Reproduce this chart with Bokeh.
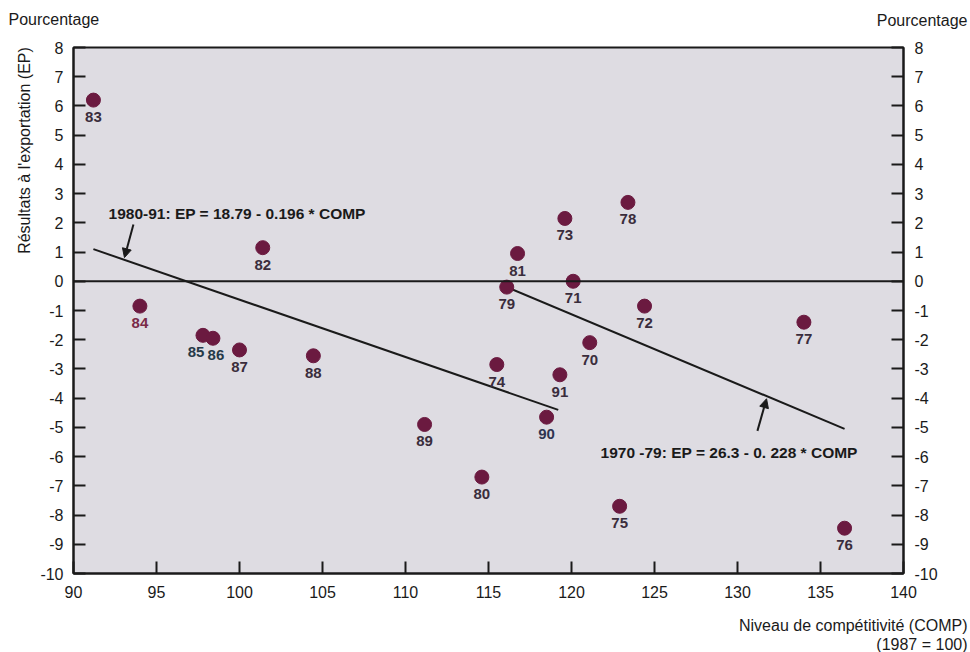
from bokeh.plotting import figure
from bokeh.models import (LinearAxis, FixedTicker, Span, Label, Arrow, NormalHead,
                          ColumnDataSource, Range1d, CustomJSTickFormatter)
from bokeh.core.properties import value
from bokeh.embed import file_html
from bokeh.resources import INLINE
import math

# ---- data ----
years = ["83", "84", "82", "85", "86", "87", "88", "89", "80", "74", "79", "81",
         "73", "71", "70", "91", "90", "78", "72", "75", "77", "76"]
comp = [91.2, 94.0, 101.4, 97.8, 98.4, 100.0, 104.45, 111.15, 114.6, 115.5, 116.1, 116.75,
        119.6, 120.1, 121.1, 119.3, 118.5, 123.4, 124.4, 122.9, 134.0, 136.45]
ep = [6.2, -0.85, 1.15, -1.85, -1.95, -2.35, -2.55, -4.9, -6.7, -2.85, -0.2, 0.95,
      2.15, 0.0, -2.1, -3.2, -4.65, 2.7, -0.85, -7.7, -1.4, -8.45]

fit8091_x = [91.2, 119.2]
fit8091_y = [1.1, -4.4]
fit7079_x = [116.1, 136.45]
fit7079_y = [-0.2, -5.05]

x_ticks = [90, 95, 100, 105, 110, 115, 120, 125, 130, 135, 140]
y_ticks = list(range(-10, 9))

eq_8091 = "1980-91: EP = 18.79 - 0.196 * COMP"
eq_7079 = "1970 -79: EP = 26.3 - 0. 228 * COMP"
y_unit = "Pourcentage"
y_title = "Résultats à l'exportation (EP)"
x_title = "Niveau de compétitivité (COMP)"
x_base = "(1987 = 100)"

FONT = "Liberation Sans"
DOT = "#6b1a40"
LBL = "#3a2d3c"
INK = "#1a1a1a"

p = figure(width=970, height=652, output_backend="svg", toolbar_location=None,
           x_range=Range1d(90, 140), y_range=Range1d(-10, 8),
           min_border_left=73, min_border_right=67, min_border_top=47, min_border_bottom=79,
           background_fill_color="#dedce2", border_fill_color="white")
p.grid.visible = False
p.outline_line_color = INK
p.outline_line_width = 2

fmt = CustomJSTickFormatter(code="return tick.toFixed(0);")


def style_axis(ax, standoff):
    ax.axis_line_width = 2
    ax.axis_line_color = INK
    ax.major_tick_in = 12
    ax.major_tick_out = 0
    ax.major_tick_line_width = 2
    ax.major_tick_line_color = INK
    ax.minor_tick_line_color = None
    ax.major_label_text_font = FONT
    ax.major_label_text_font_size = "16px"
    ax.major_label_text_color = INK
    ax.major_label_standoff = standoff
    ax.formatter = fmt


p.xaxis[0].ticker = FixedTicker(ticks=x_ticks)
p.yaxis[0].ticker = FixedTicker(ticks=y_ticks)
style_axis(p.xaxis[0], 12)
style_axis(p.yaxis[0], 10)

ry = LinearAxis(ticker=FixedTicker(ticks=y_ticks))
style_axis(ry, 11)
p.add_layout(ry, "right")

p.add_layout(Span(location=0, dimension="width", line_color=INK, line_width=2))

p.line(fit8091_x, fit8091_y, line_color=INK, line_width=2)
p.line(fit7079_x, fit7079_y, line_color=INK, line_width=2)

p.scatter(comp, ep, size=14, fill_color=DOT, line_color=DOT)

# label offsets (pixels) and tints for some point labels
dx = {"85": -7, "86": 3}
tint = {"84": "#7a2a48", "85": "#263a48", "86": "#263a48", "90": "#2e3450"}
src = ColumnDataSource(dict(x=comp, y=ep, t=years,
                            xo=[dx.get(y, 0) for y in years],
                            c=[tint.get(y, LBL) for y in years]))
p.text(x="x", y="y", text="t", source=src, x_offset="xo", y_offset=17,
       text_align="center", text_baseline="middle", text_font=value(FONT),
       text_font_size="15px", text_font_style="bold", text_color="c")

# equations and arrows
p.add_layout(Label(x=92.11, y=2.32, text=eq_8091, text_font=FONT, text_font_size="15.5px",
                   text_font_style="bold", text_color=INK, text_baseline="middle"))
p.add_layout(Label(x=121.75, y=-5.87, text=eq_7079, text_font=FONT, text_font_size="15.5px",
                   text_font_style="bold", text_color=INK, text_baseline="middle"))
p.add_layout(Arrow(x_start=93.61, y_start=1.94, x_end=93.07, y_end=0.81, line_width=2,
                   line_color=INK,
                   end=NormalHead(size=9, fill_color=INK, line_color=INK)))
p.add_layout(Arrow(x_start=131.2, y_start=-5.12, x_end=131.75, y_end=-4.02, line_width=2,
                   line_color=INK,
                   end=NormalHead(size=9, fill_color=INK, line_color=INK)))

# texts outside the frame (side-panel labels, screen units)
common = dict(x_units="screen", y_units="screen", text_font=FONT, text_font_size="16px",
              text_color=INK, text_baseline="middle")
p.add_layout(Label(x=-65, y=28, text=y_unit, text_align="left", **common), "above")
p.add_layout(Label(x=894, y=10, text=y_unit, text_align="right", **common), "above")
p.add_layout(Label(x=894, y=-8, text=x_title, text_align="right", **common), "below")
p.add_layout(Label(x=894, y=-10, text=x_base, text_align="right", **common), "below")
p.add_layout(Label(x=4, y=423, text=y_title, text_align="center", angle=math.pi / 2,
                   **common), "left")

open("out.html", "w").write(file_html(p, INLINE))
